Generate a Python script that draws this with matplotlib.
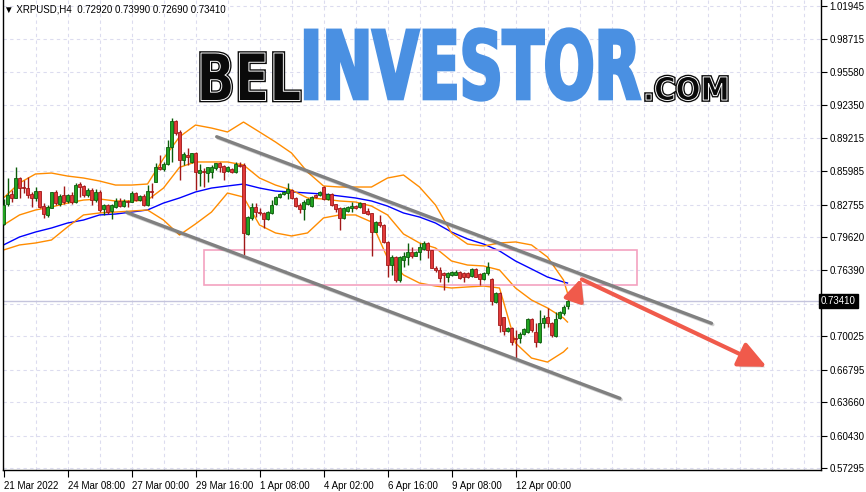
import numpy as np
import matplotlib.pyplot as plt
from matplotlib.textpath import TextPath
from matplotlib.patches import PathPatch, Rectangle
from matplotlib.font_manager import FontProperties
from matplotlib.transforms import Affine2D, blended_transform_factory
import matplotlib.patheffects as pe

W, H = 866, 492

# XRPUSD H4 candles
opens = [0.8085, 0.8278, 0.8375, 0.8342, 0.8536, 0.8439, 0.8433, 0.8378, 0.8336, 0.8407,
         0.8262, 0.8175, 0.8246, 0.8400, 0.8278, 0.8368, 0.8310, 0.8368, 0.8297, 0.8474,
         0.8455, 0.8368, 0.8416, 0.8320, 0.8400, 0.8233, 0.8272, 0.8214, 0.8256, 0.8313,
         0.8265, 0.8310, 0.8304, 0.8384, 0.8320, 0.8362, 0.8272, 0.8407, 0.8497, 0.8642,
         0.8619, 0.8664, 0.8835, 0.9083, 0.8980, 0.8706, 0.8755, 0.8690, 0.8770, 0.8584,
         0.8603, 0.8584, 0.8593, 0.8626, 0.8680, 0.8648, 0.8603, 0.8619, 0.8593, 0.8658,
         0.8658, 0.7991, 0.8143, 0.8255, 0.8207, 0.8197, 0.8136, 0.8197, 0.8281, 0.8345,
         0.8375, 0.8390, 0.8416, 0.8336, 0.8271, 0.8229, 0.8281, 0.8262, 0.8368, 0.8368,
         0.8449, 0.8329, 0.8378, 0.8278, 0.8239, 0.8143, 0.8214, 0.8246, 0.8262, 0.8249,
         0.8287, 0.8217, 0.8191, 0.8014, 0.8110, 0.8078, 0.7917, 0.7690, 0.7772, 0.7546,
         0.7740, 0.7772, 0.7814, 0.7782, 0.7814, 0.7846, 0.7901, 0.7837, 0.7666, 0.7643,
         0.7618, 0.7579, 0.7595, 0.7595, 0.7627, 0.7611, 0.7618, 0.7589, 0.7653, 0.7602,
         0.7556, 0.7611, 0.7556, 0.7337, 0.7418, 0.7193, 0.7054, 0.7086, 0.6983, 0.6983,
         0.7022, 0.7048, 0.7170, 0.7048, 0.6951, 0.7128, 0.7193, 0.7128, 0.7009, 0.7177,
         0.7225, 0.7292]
highs = [0.8326, 0.8529, 0.8416, 0.8642, 0.8545, 0.8513, 0.8545, 0.8400, 0.8449, 0.8407,
         0.8288, 0.8272, 0.8400, 0.8416, 0.8375, 0.8458, 0.8375, 0.8400, 0.8481, 0.8491,
         0.8465, 0.8433, 0.8433, 0.8426, 0.8416, 0.8278, 0.8278, 0.8278, 0.8336, 0.8336,
         0.8330, 0.8320, 0.8407, 0.8400, 0.8368, 0.8375, 0.8465, 0.8481, 0.8674, 0.8755,
         0.8690, 0.8900, 0.9109, 0.9090, 0.8996, 0.8780, 0.8819, 0.8777, 0.8780, 0.8667,
         0.8626, 0.8640, 0.8658, 0.8680, 0.8690, 0.8658, 0.8645, 0.8630, 0.8690, 0.8690,
         0.8674, 0.8165, 0.8287, 0.8287, 0.8239, 0.8207, 0.8210, 0.8320, 0.8358, 0.8390,
         0.8410, 0.8481, 0.8423, 0.8345, 0.8287, 0.8320, 0.8336, 0.8360, 0.8380, 0.8410,
         0.8455, 0.8390, 0.8384, 0.8285, 0.8255, 0.8255, 0.8260, 0.8304, 0.8270, 0.8300,
         0.8295, 0.8239, 0.8195, 0.8115, 0.8175, 0.8090, 0.7920, 0.7788, 0.7775, 0.7780,
         0.7820, 0.7901, 0.7869, 0.7825, 0.7901, 0.7924, 0.7917, 0.7840, 0.7680, 0.7676,
         0.7627, 0.7627, 0.7630, 0.7640, 0.7635, 0.7627, 0.7625, 0.7660, 0.7660, 0.7611,
         0.7620, 0.7718, 0.7563, 0.7428, 0.7434, 0.7193, 0.7096, 0.7096, 0.7064, 0.7048,
         0.7080, 0.7177, 0.7177, 0.7128, 0.7257, 0.7209, 0.7273, 0.7145, 0.7234, 0.7245,
         0.7305, 0.7399]
lows = [0.8078, 0.8265, 0.8304, 0.8336, 0.8336, 0.8384, 0.8336, 0.8256, 0.8310, 0.8246,
        0.8143, 0.8159, 0.8239, 0.8272, 0.8265, 0.8278, 0.8288, 0.8278, 0.8288, 0.8352,
        0.8352, 0.8352, 0.8272, 0.8297, 0.8201, 0.8175, 0.8181, 0.8136, 0.8246, 0.8256,
        0.8256, 0.8256, 0.8297, 0.8310, 0.8310, 0.8265, 0.8265, 0.8342, 0.8490, 0.8610,
        0.8600, 0.8658, 0.8690, 0.8950, 0.8513, 0.8658, 0.8658, 0.8674, 0.8416, 0.8455,
        0.8449, 0.8490, 0.8529, 0.8610, 0.8593, 0.8513, 0.8590, 0.8580, 0.8584, 0.8635,
        0.7788, 0.7982, 0.8127, 0.8159, 0.8175, 0.8046, 0.8130, 0.8185, 0.8275, 0.8336,
        0.8368, 0.8326, 0.8329, 0.8255, 0.8191, 0.8127, 0.8270, 0.8255, 0.8340, 0.8360,
        0.8320, 0.8320, 0.8262, 0.8207, 0.8030, 0.8140, 0.8205, 0.8207, 0.8230, 0.8240,
        0.8190, 0.8175, 0.7779, 0.8010, 0.8062, 0.7900, 0.7579, 0.7595, 0.7530, 0.7530,
        0.7676, 0.7692, 0.7756, 0.7775, 0.7740, 0.7837, 0.7756, 0.7660, 0.7620, 0.7531,
        0.7450, 0.7531, 0.7585, 0.7590, 0.7560, 0.7531, 0.7570, 0.7579, 0.7575, 0.7498,
        0.7550, 0.7595, 0.7305, 0.7321, 0.7048, 0.7016, 0.7045, 0.6919, 0.6796, 0.6935,
        0.7016, 0.7032, 0.7048, 0.6903, 0.6935, 0.7080, 0.7096, 0.7000, 0.7000, 0.7170,
        0.7209, 0.7269]
closes = [0.8272, 0.8368, 0.8342, 0.8536, 0.8433, 0.8433, 0.8368, 0.8336, 0.8407, 0.8256,
          0.8181, 0.8256, 0.8394, 0.8288, 0.8359, 0.8297, 0.8368, 0.8297, 0.8465, 0.8449,
          0.8368, 0.8416, 0.8320, 0.8400, 0.8223, 0.8272, 0.8207, 0.8272, 0.8310, 0.8265,
          0.8310, 0.8304, 0.8391, 0.8320, 0.8359, 0.8272, 0.8407, 0.8394, 0.8642, 0.8619,
          0.8664, 0.8835, 0.9083, 0.8964, 0.8706, 0.8761, 0.8738, 0.8770, 0.8590, 0.8610,
          0.8590, 0.8635, 0.8642, 0.8674, 0.8635, 0.8593, 0.8635, 0.8590, 0.8664, 0.8648,
          0.7998, 0.8159, 0.8249, 0.8207, 0.8191, 0.8133, 0.8207, 0.8271, 0.8352, 0.8375,
          0.8400, 0.8423, 0.8336, 0.8262, 0.8229, 0.8304, 0.8326, 0.8352, 0.8352, 0.8400,
          0.8326, 0.8378, 0.8271, 0.8229, 0.8143, 0.8239, 0.8249, 0.8262, 0.8239, 0.8287,
          0.8197, 0.8185, 0.8014, 0.8110, 0.8078, 0.7917, 0.7690, 0.7772, 0.7546, 0.7772,
          0.7782, 0.7814, 0.7782, 0.7814, 0.7869, 0.7901, 0.7837, 0.7666, 0.7643, 0.7563,
          0.7595, 0.7611, 0.7621, 0.7627, 0.7569, 0.7579, 0.7579, 0.7650, 0.7579, 0.7556,
          0.7611, 0.7676, 0.7344, 0.7418, 0.7112, 0.7054, 0.7086, 0.6951, 0.6974, 0.7022,
          0.7073, 0.7170, 0.7064, 0.6951, 0.7128, 0.7177, 0.7128, 0.7016, 0.7170, 0.7234,
          0.7289, 0.7341]

# indicator values read every 4 bars (and the last bar)
ind_bars = list(range(0, 141, 4)) + [141]
bb_upper = [0.8339, 0.8484, 0.8571, 0.8580, 0.8551, 0.8532, 0.8503, 0.8464, 0.8464, 0.8474,
            0.8720, 0.8930, 0.9044, 0.9015, 0.8977, 0.9073, 0.8977, 0.8880, 0.8774, 0.8590,
            0.8455, 0.8445, 0.8445, 0.8445, 0.8532, 0.8561, 0.8445, 0.8271, 0.8001, 0.7894,
            0.7875, 0.7904, 0.7914, 0.7885, 0.7768, 0.7546, 0.7421]
bb_mid = [0.8078, 0.8175, 0.8223, 0.8252, 0.8290, 0.8319, 0.8329, 0.8310, 0.8310, 0.8319,
          0.8435, 0.8635, 0.8687, 0.8687, 0.8687, 0.8658, 0.8532, 0.8464, 0.8416, 0.8339,
          0.8329, 0.8310, 0.8300, 0.8261, 0.8175, 0.7991, 0.7904, 0.7856, 0.7730, 0.7691,
          0.7682, 0.7643, 0.7469, 0.7353, 0.7276, 0.7179, 0.7140]
bb_lower = [0.7836, 0.7885, 0.7904, 0.7933, 0.8059, 0.8175, 0.8194, 0.8203, 0.8213, 0.8223,
            0.8126, 0.7981, 0.8088, 0.8203, 0.8387, 0.8348, 0.8078, 0.8001, 0.7972, 0.8001,
            0.8146, 0.8175, 0.8175, 0.8107, 0.7759, 0.7595, 0.7517, 0.7488, 0.7469, 0.7479,
            0.7488, 0.7469, 0.6937, 0.6792, 0.6753, 0.6851, 0.6889]
ma_line = [0.7885, 0.7962, 0.8010, 0.8049, 0.8097, 0.8126, 0.8175, 0.8184, 0.8203, 0.8223,
           0.8290, 0.8339, 0.8397, 0.8435, 0.8455, 0.8474, 0.8435, 0.8406, 0.8397, 0.8387,
           0.8377, 0.8358, 0.8339, 0.8310, 0.8261, 0.8194, 0.8155, 0.8097, 0.8010, 0.7943,
           0.7894, 0.7827, 0.7730, 0.7653, 0.7575, 0.7527, 0.7517]

# drawn objects: (bar, price) anchors
chan_upper = [(53.3, 0.8931), (177.0, 0.7128)]
chan_lower = [(30.8, 0.8200), (154.1, 0.6403)]
zone = (50.1, 158.4, 0.7498, 0.7836)
arrow_up = [(142.7, 0.7370), (144.4, 0.7562)]
arrow_down = [(144.6, 0.7552), (190.8, 0.6708)]

price_ticks = [1.01945, 0.98715, 0.95580, 0.92350, 0.89215, 0.85985, 0.82755, 0.79620,
               0.76390, 0.73160, 0.70025, 0.66795, 0.63660, 0.60430, 0.57295]
time_ticks = [0, 16, 32, 48, 64, 80, 96, 112, 128]
time_labels = ['21 Mar 2022', '24 Mar 08:00', '27 Mar 00:00', '29 Mar 16:00', '1 Apr 08:00',
               '4 Apr 02:00', '6 Apr 16:00', '9 Apr 08:00', '12 Apr 00:00']
last_price = 0.73410
title = '\u25bc XRPUSD,H4  0.72920 0.73990 0.72690 0.73410'

plt.rcParams['font.family'] = ['Liberation Sans', 'DejaVu Sans']

fig = plt.figure(figsize=(W / 100, H / 100), dpi=100)
ax = fig.add_axes([3 / W, 22 / H, 818 / W, 470 / H])
ax.set_xlim(-0.125, 204.375)
ax.set_ylim(0.570994, 1.025249)

gridc = '#dcdcef'
for y in price_ticks:
    ax.axhline(y, color=gridc, lw=0.8, ls=(0, (3, 3)), zorder=0)
for b in range(8, 205, 8):
    ax.axvline(b, color=gridc, lw=0.8, ls=(0, (3, 3)), zorder=0)

ax.axhline(last_price, color='#c4c4dc', lw=1, zorder=1)

# candles
o = np.array(opens); hi = np.array(highs); lo = np.array(lows); c = np.array(closes)
idx = np.arange(len(o))
up = c >= o
for m, face, edge in [(up, '#22a322', '#0b5c0b'), (~up, '#e23a3a', '#a01818')]:
    ax.vlines(idx[m], lo[m], hi[m], color=edge, lw=1, zorder=3)
    ax.bar(idx[m], np.maximum(np.abs(c - o)[m], 0.0009), bottom=np.minimum(o, c)[m],
           width=0.62, color=face, edgecolor=edge, lw=0.6, zorder=4)

# indicators
ax.plot(ind_bars, ma_line, color='#0000ff', lw=1, zorder=2)
for band in (bb_upper, bb_mid, bb_lower):
    ax.plot(ind_bars, band, color='#ff8c00', lw=1, zorder=2)

shadow = [pe.SimpleLineShadow(offset=(1, -1), alpha=0.18), pe.Normal()]
for ch in (chan_upper, chan_lower):
    ax.plot([p[0] for p in ch], [p[1] for p in ch], color='#808080', lw=2.4,
            solid_capstyle='round', zorder=5, path_effects=shadow)

ax.add_patch(Rectangle((zone[0], zone[2]), zone[1] - zone[0], zone[3] - zone[2],
                       fill=False, edgecolor='#f4a2c0', lw=1.2, zorder=2))

for seg, hs in ((arrow_up, 10), (arrow_down, 13)):
    a = ax.annotate('', xy=seg[1], xytext=seg[0],
                    arrowprops=dict(arrowstyle='-|>,head_length=1.3,head_width=0.6',
                                    color='#f05a4b', lw=3, mutation_scale=hs,
                                    shrinkA=0, shrinkB=0), zorder=6)
    a.arrow_patch.set_path_effects([pe.SimplePatchShadow(offset=(2, -2), alpha=0.25), pe.Normal()])

# axes look
ax.spines['top'].set_visible(False)
for s in ('left', 'right', 'bottom'):
    ax.spines[s].set_color('black')
    ax.spines[s].set_linewidth(1)
ax.yaxis.tick_right()
ax.set_yticks(price_ticks)
ax.set_yticklabels(['' if abs(v - 0.7316) < 1e-6 else f'{v:.5f}' for v in price_ticks])
ax.tick_params(axis='y', length=4, width=0.8, pad=2, labelsize=7, colors='black')
ax.set_xticks(time_ticks)
ax.set_xticklabels(time_labels, ha='left')
ax.tick_params(axis='x', length=5, width=0.8, pad=3, labelsize=7, colors='black')

ax.text(1.0, last_price, f'{last_price:.5f}', transform=blended_transform_factory(ax.transAxes, ax.transData),
        ha='left', va='center', fontsize=7, color='white', zorder=10, clip_on=False,
        bbox=dict(boxstyle='square,pad=0.2', fc='black', ec='black'))

fig.text(4 / W, 1 - 10 / H, title, fontsize=7, va='center', ha='left')


# watermark logo
def logo(text, box, face, inline=None, stroke=0):
    x0, y0, x1, y1 = box
    tp = TextPath((0, 0), text, size=100, prop=FontProperties(family='DejaVu Sans', weight='bold'))
    e = tp.get_extents()
    tr = Affine2D().translate(-e.x0, -e.y0).scale((x1 - x0) / e.width / W, (y1 - y0) / e.height / H) \
        .translate(x0 / W, (H - y1) / H) + fig.transFigure
    if inline:
        fig.add_artist(PathPatch(tp, transform=tr, fc=face, ec=face, lw=2.6, zorder=1))
        fig.add_artist(PathPatch(tp, transform=tr, fc='none', ec=inline, lw=0.7, zorder=1))
    else:
        fig.add_artist(PathPatch(tp, transform=tr, fc=face, ec=face, lw=stroke, zorder=1))


logo('BEL', (201, 53, 300, 100.5), '#0a0a0a', 'white')
logo('INVESTOR', (305.5, 29, 639.5, 100), '#4a90e2', stroke=2.4)
logo('.COM', (646, 76.5, 727, 100.5), '#0a0a0a', 'white')

fig.savefig('out.png', dpi=100)
